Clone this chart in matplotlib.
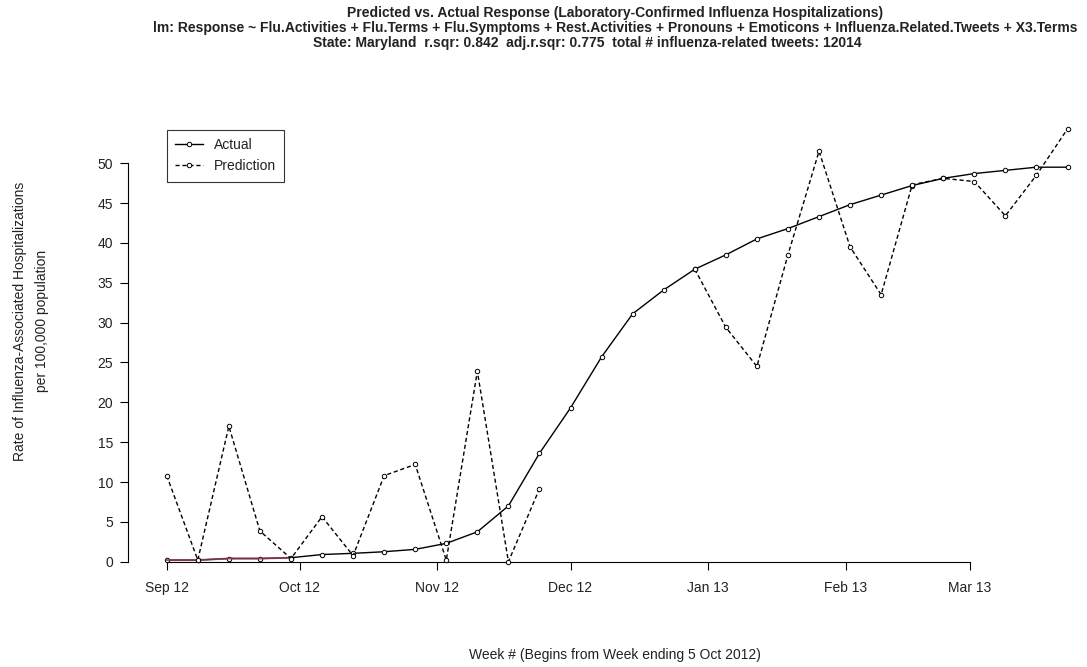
import numpy as np
import pandas as pd
import matplotlib
matplotlib.use('Agg')
import matplotlib.pyplot as plt
import matplotlib.dates as mdates

# weekly points, first one on the Sep 12 tick
week_dates = pd.date_range('2012-09-01', periods=30, freq='7D')
month_ticks = pd.date_range('2012-09-01', '2013-03-01', freq='MS')

actual = [0.2, 0.2, 0.4, 0.4, 0.5, 0.9, 1.05, 1.25, 1.55, 2.3,
          3.75, 7.0, 13.6, 19.3, 25.7, 31.1, 34.1, 36.7, 38.5, 40.5,
          41.8, 43.3, 44.8, 46.0, 47.2, 48.1, 48.7, 49.1, 49.5, 49.5]

# prediction is missing for a few weeks in Dec
prediction = [10.8, 0.2, 17.0, 3.85, 0.4, 5.65, 0.75, 10.8, 12.2, 0.2,
              23.9, 0.0, 9.15, np.nan, np.nan, np.nan, np.nan, 36.7, 29.4, 24.5,
              38.5, 51.5, 39.5, 33.5, 47.3, 48.1, 47.7, 43.4, 48.5, 54.3]

y_ticks = [0, 5, 10, 15, 20, 25, 30, 35, 40, 45, 50]

TITLE_LINES = [
    'Predicted vs. Actual Response (Laboratory-Confirmed Influenza Hospitalizations)',
    'lm: Response ~ Flu.Activities + Flu.Terms + Flu.Symptoms + Rest.Activities + '
    'Pronouns + Emoticons + Influenza.Related.Tweets + X3.Terms',
    'State: Maryland  r.sqr: 0.842  adj.r.sqr: 0.775  total # influenza-related tweets: 12014',
]

W, H = 1087, 667
TEXT_COLOR = '#222222'

plt.rcParams['font.family'] = ['Liberation Sans', 'DejaVu Sans']

fig = plt.figure(figsize=(W / 100, H / 100), dpi=100)

# plot region in pixels: left 128, right 1107 (past the edge), y=0 at 561.7
px_per_unit = 7.97
ymax = 56
ax = fig.add_axes([128 / W, (H - 561.7) / H, (1107 - 128) / W, ymax * px_per_unit / H])

start = week_dates[0]
ax.set_xlim(start - pd.Timedelta(days=8.73), start + pd.Timedelta(days=211.9))
ax.set_ylim(0, ymax)

# actual (solid) and prediction (dashed)
ax.plot(week_dates, actual, color='black', lw=1.0, marker='o', ms=3.2,
        mfc='white', mec='black', mew=0.7, clip_on=False, label='Actual', zorder=3)
ax.plot(week_dates, prediction, color='black', lw=1.0, ls=(0, (3, 2)), marker='o',
        ms=3.2, mfc='white', mec='black', mew=0.7, clip_on=False,
        label='Prediction', zorder=4)

# reddish stretch along the bottom at the start of the season
ax.plot(week_dates[:5], actual[:5], color='#8b3a55', lw=1.4, alpha=0.85,
        clip_on=False, zorder=3.5)

# axes like R: only left and bottom, limited to tick range
for side in ['top', 'right']:
    ax.spines[side].set_visible(False)
ax.spines['left'].set_bounds(0, 50)
ax.spines['bottom'].set_bounds(mdates.date2num(month_ticks[0]),
                               mdates.date2num(month_ticks[-1]))

ax.set_yticks(y_ticks)
ax.set_xticks(month_ticks)
ax.xaxis.set_major_formatter(mdates.DateFormatter('%b %y'))
ax.tick_params(axis='both', direction='out', length=5.8, width=0.8,
               labelsize=10, colors='black', labelcolor=TEXT_COLOR)
ax.tick_params(axis='y', pad=5)
ax.tick_params(axis='x', pad=8)

# legend box in the top left corner
leg = fig.legend(loc='upper left', bbox_to_anchor=(166.7 / W, 1 - 130 / H),
                 fontsize=10, frameon=True, fancybox=False, edgecolor='black',
                 handlelength=2.0, handletextpad=0.8, labelspacing=0.5,
                 borderpad=0.6, borderaxespad=0)
leg.get_frame().set_linewidth(0.8)
for t in leg.get_texts():
    t.set_color(TEXT_COLOR)

# title, three lines
for txt, xpx, ypx in zip(TITLE_LINES, [615, 615, 587], [13, 28, 43]):
    fig.text(xpx / W, 1 - ypx / H, txt, ha='center', va='center',
             fontsize=10, fontweight='bold', color=TEXT_COLOR)

# axis labels
fig.text(20 / W, 1 - 321 / H, 'Rate of Influenza-Associated Hospitalizations',
         rotation=90, ha='center', va='center', fontsize=10, color=TEXT_COLOR)
fig.text(42 / W, 1 - 321 / H, 'per 100,000 population',
         rotation=90, ha='center', va='center', fontsize=10, color=TEXT_COLOR)
fig.text(615 / W, 1 - 655 / H, 'Week # (Begins from Week ending 5 Oct 2012)',
         ha='center', va='center', fontsize=10, color=TEXT_COLOR)

fig.savefig('out.png', dpi=100, facecolor='white')
